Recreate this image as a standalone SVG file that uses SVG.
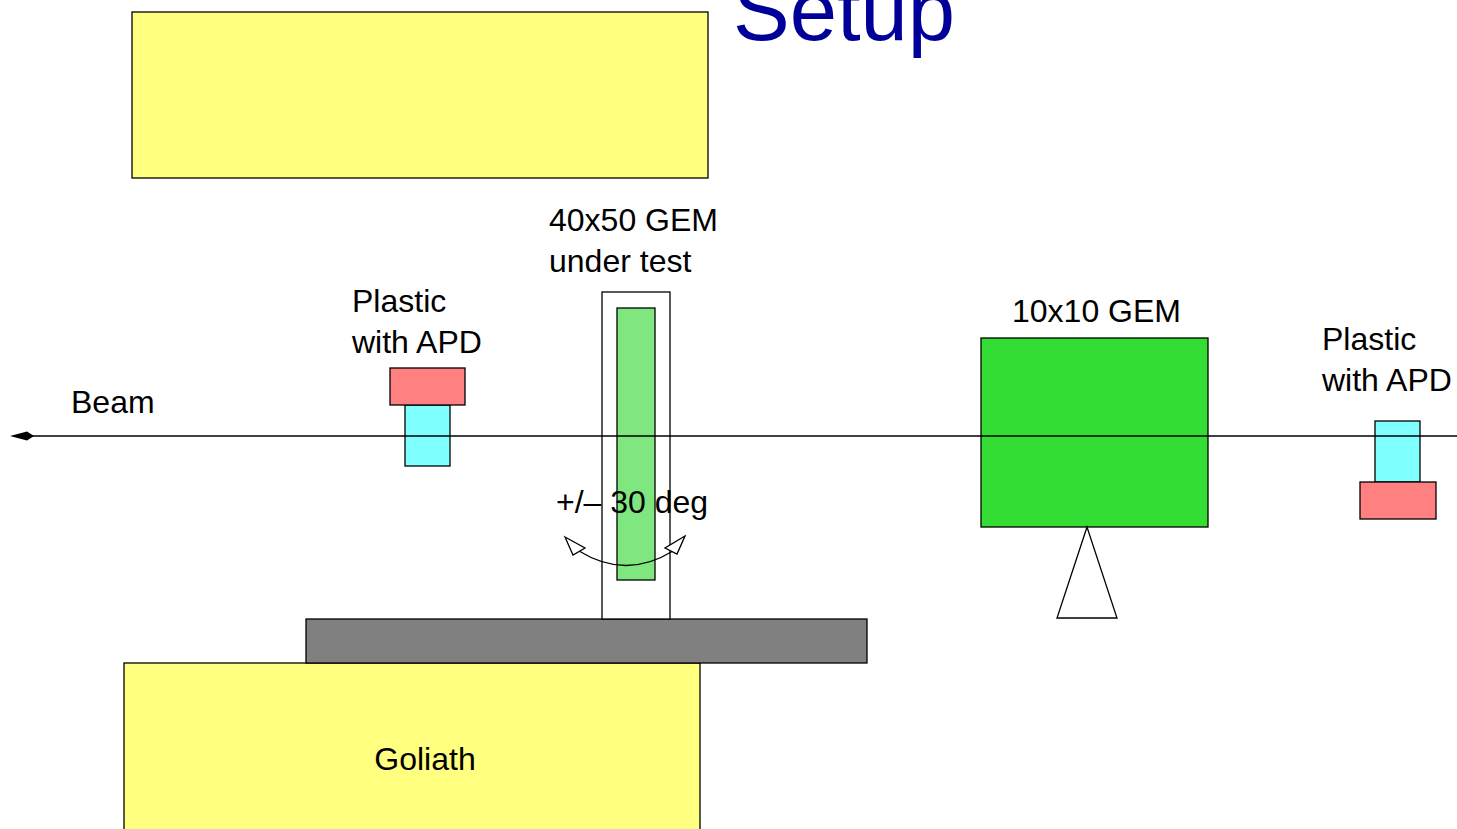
<svg xmlns="http://www.w3.org/2000/svg" width="1457" height="829" viewBox="0 0 1457 829">
<style>
.s{stroke:#000;stroke-width:1.3}
.y{fill:#ffff80}
.t{font-family:"Liberation Sans",Arial,sans-serif;font-size:32px;fill:#000}
</style>
<rect width="1457" height="829" fill="#fff"/>
<g id="top-block"><rect class="s y" x="132" y="12" width="576" height="166"/></g>
<g id="title"><text x="733" y="40" font-family="Liberation Sans,Arial,sans-serif" font-size="85" fill="#000099">Setup</text></g>
<g id="goliath"><rect class="s y" x="124" y="663" width="576" height="170"/><text class="t" x="425" y="770" text-anchor="middle">Goliath</text></g>
<g id="table"><rect class="s" x="306" y="619" width="561" height="44" fill="#808080"/></g>
<g id="gem-test">
<rect class="s" x="602" y="292" width="68" height="327" fill="#fff"/>
<rect class="s" x="617" y="308" width="38" height="272" fill="#80e680"/>
<text class="t" x="549" y="231">40x50 GEM</text>
<text class="t" x="549" y="272">under test</text>
</g>
<g id="plastic-left">
<rect class="s" x="405" y="405" width="45" height="61" fill="#80ffff"/>
<rect class="s" x="390" y="368" width="75" height="37" fill="#ff8080"/>
<text class="t" x="352" y="312">Plastic</text>
<text class="t" x="352" y="353">with APD</text>
</g>
<g id="gem-10x10">
<rect class="s" x="981" y="338" width="227" height="189" fill="#33dd33"/>
<polygon class="s" points="1087,527 1057,618 1117,618" fill="#fff"/>
<text class="t" x="1012" y="322">10x10 GEM</text>
</g>
<g id="plastic-right">
<rect class="s" x="1375" y="421" width="45" height="61" fill="#80ffff"/>
<rect class="s" x="1360" y="482" width="76" height="37" fill="#ff8080"/>
<text class="t" x="1322" y="350">Plastic</text>
<text class="t" x="1322" y="391">with APD</text>
</g>
<g id="connectors">
<line class="s" x1="30" y1="436" x2="1457" y2="436"/>
<polygon points="10,436 27,431.5 34,436 27,440.5" fill="#000"/>
<path d="M579 551 Q626 580 673 551" fill="none" stroke="#000" stroke-width="1.3"/>
<polygon points="565,537 585,548 573,555" fill="#fff" stroke="#000" stroke-width="1.3"/>
<polygon points="685,536 665,548 677,554" fill="#fff" stroke="#000" stroke-width="1.3"/>
</g>
<g id="labels">
<text class="t" x="71" y="413">Beam</text>
<text class="t" x="556" y="513">+/– 30 deg</text>
</g>
</svg>
